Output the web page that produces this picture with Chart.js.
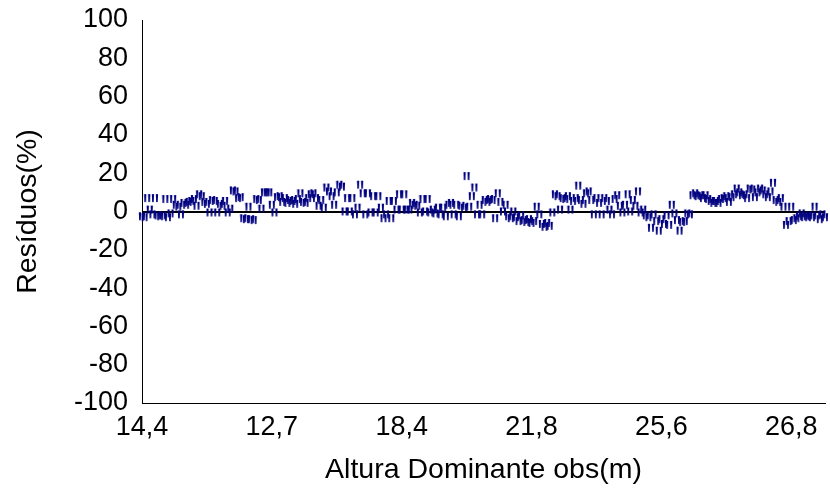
<!DOCTYPE html>
<html>
<head>
<meta charset="utf-8">
<script src="https://cdn.jsdelivr.net/npm/chart.js@4.4.1/dist/chart.umd.min.js"></script>
<style>
  html, body { margin: 0; padding: 0; background: #ffffff; }
  #wrap { width: 830px; height: 490px; position: relative; }
</style>
</head>
<body>
<div id="wrap"><canvas id="chart"></canvas></div>
<script>
// Observed dominant height shown on the category axis, one label every `tickEvery` trees
const tickLabels = ['14,4', '12,7', '18,4', '21,8', '25,6', '26,8'];
const tickEvery = 50;

// Residuals (%) per tree, in axis order
const residuals = [
  // 14,4 ..
  -2.5, -3, 7, 1, -1.5, 7, -2, -2.5, -2, 6.5, -3, -1, 6.5, 3.5,
  2.5, -1.5, 4.5, 3.5, 5, 5.5, 6.5,
  3, 9, 8,
  5, 4, -0.5, 6, 5.5, -0.5, 4, 3, 5.5, -0.5,
  1.5, 11, 10.5,
  7, 7.5, -3.5, -4, 2.5, -4, -4.5, 6.5, 6, 1.5,
  10, 10, 10, 3.5,
  // 12,7 ..
  -0.5, 7.5, 8, 5, 7, 4.5, 6, 5.5, 4, 6.5,
  9.5, 5, 4.5, 7,
  9, 9.5, 7, 3, 6, 2, 12.5, 10.5, 8, 3.5, 10, 14, 13, 0, 7, 0, 7, -1.5, 2, 14,
  9.5, -1.5, 9.5, -0.5, 8, -0.5, 8, 2, -3.5, -1.5, 5.5, -3.5, 5.5, 1, 9,
  // 18,4 ..
  1, 9, 1, 1, 4.5, 3.5, 3, -0.5, 6.5, 0, 6.5, -0.5, 1, -1, 2, -1.5, 2, -2.5,
  3.5, 4.5, -1.5, 3.5, -2.5, 3, 2, 18.5, 2.5, 8, 12.5, -1.5,
  3.5, -1.5, 6, 5, 6.5, 6, -3.5, 9.5, 5, 0, 3.5, -2.5, -3.5, 0, -3, -5, -2, -4.5, -5.5, -4,
  // 21,8 ..
  -6, -5, 2.5, -1.5, -6.5, -8, -6, -7.5, -0.5, 9, 8, 1, 7, 6.5, 8, 1, 5.5, 7, 13.5, 6,
  4, 9.5, 10.5, 6, -1.5, 7, 4.5, -1.5, 7, 5.5, 1, -1.5, 6.5, 8.5, 3, -0.5, 3.5, 9, 0, 6,
  3, 10.5, -0.5, 1, -2, -3, -8.5, -1.5, -5, -10,
  // 25,6 ..
  -4, -6.5, -2, -7, 3.5, -1, -4.5, -10, -5.5, -5, -1, -1.5, 8.5, 9.5, 8, 8.5, 7, 8.5, 6.5, 5.5,
  4.5, 5.5, 4.5, 6.5, 7, 8, 5, 7.5, 9, 12, 10, 8.5, 9, 7, 12, 11.5, 7.5, 10, 12, 11,
  9, 7.5, 10.5, 15, 6, 5, 7, 2.5, -7, -5,
  // 26,8 ..
  2.5, -4.5, -3.5, -2.5, -1, -3, -2.5, -2, -3, 2.5, -2, -4, -1.5, -3
];

const yRange = { min: -100, max: 100, step: 20 };

const categories = residuals.map((_, i) =>
  i % tickEvery === 0 ? (tickLabels[i / tickEvery] || '') : ''
);

// Quote-style marker: two short tapered vertical strokes
function makeMarker() {
  const c = document.createElement('canvas');
  c.width = 8;
  c.height = 10;
  const g = c.getContext('2d');
  g.fillStyle = '#000080';
  const stroke = (x0) => {
    g.beginPath();
    g.moveTo(x0, 1);
    g.lineTo(x0 + 2.3, 1);
    g.lineTo(x0 + 1.9, 9);
    g.lineTo(x0 + 0.4, 9);
    g.closePath();
    g.fill();
  };
  stroke(0.8);
  stroke(4.8);
  return c;
}

const FONT = "'Liberation Sans', Arial, Helvetica, sans-serif";
const marker = makeMarker();

new Chart(document.getElementById('chart'), {
  type: 'line',
  data: {
    labels: categories,
    datasets: [{
      data: residuals,
      showLine: false,
      pointStyle: marker,
      pointRadius: 4,
      pointHoverRadius: 4,
      borderColor: '#000080',
      backgroundColor: '#000080'
    }]
  },
  options: {
    responsive: true,
    maintainAspectRatio: false,
    animation: false,
    devicePixelRatio: 1,
    events: [],
    layout: { padding: { top: 20, right: 0, bottom: 0, left: 0 } },
    plugins: { legend: { display: false }, tooltip: { enabled: false } },
    scales: {
      x: {
        type: 'category',
        offset: false,
        grid: { display: false, drawTicks: false },
        border: { display: true, color: '#000000', width: 1 },
        ticks: {
          autoSkip: false, maxRotation: 0, minRotation: 0,
          padding: 8, color: '#000000',
          font: { family: FONT, size: 27 }
        },
        title: {
          display: true, text: 'Altura Dominante obs(m)', color: '#000000',
          font: { family: FONT, size: 28.5 },
          padding: { top: 0, bottom: 3 }
        },
        afterFit: (s) => { s.height = 87; s.paddingLeft = 0; s.paddingRight = 0; }
      },
      y: {
        min: yRange.min,
        max: yRange.max,
        ticks: {
          stepSize: yRange.step, padding: 14, color: '#000000',
          font: { family: FONT, size: 27 }
        },
        grid: {
          drawTicks: false,
          color: (c) => (c.tick && c.tick.value === 0 ? '#000000' : 'rgba(0,0,0,0)'),
          lineWidth: (c) => (c.tick && c.tick.value === 0 ? 2 : 0)
        },
        border: { display: true, color: '#000000', width: 1 },
        title: {
          display: true, text: 'Resíduos(%)', color: '#000000',
          font: { family: FONT, size: 28.5 },
          padding: { top: 11, bottom: 0 }
        },
        afterFit: (s) => { s.width = 142; s.paddingTop = 0; s.paddingBottom = 0; }
      }
    }
  }
});
</script>
</body>
</html>
